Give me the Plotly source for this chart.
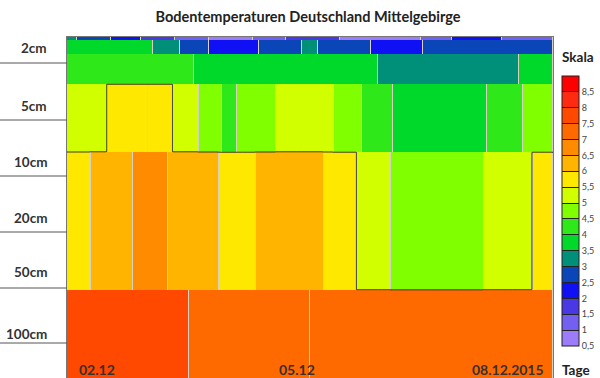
import numpy as np
import plotly.graph_objects as go

# ---------------- data ----------------
# colour classes (°C): boundaries 0.5 ... 9 in 0.5 steps
class_bounds = [0.5, 1, 1.5, 2, 2.5, 3, 3.5, 4, 4.5, 5, 5.5, 6, 6.5, 7, 7.5, 8, 8.5, 9]
class_colors = ["#9c7cf8", "#7460f0", "#4a38e4", "#1010f4", "#0a46b8", "#00907a",
                "#00d82a", "#2ee81a", "#80ff00", "#d2ff00", "#ffe800", "#ffb400",
                "#ff8c00", "#ff6a00", "#ff4800", "#ff2a10", "#ff0000"]
colorbar_ticks = [0.5, 1, 1.5, 2, 2.5, 3, 3.5, 4, 4.5, 5, 5.5, 6, 6.5, 7, 7.5, 8, 8.5]
colorbar_ticktext = ["0,5", "1", "1,5", "2", "2,5", "3", "3,5", "4", "4,5", "5",
                     "5,5", "6", "6,5", "7", "7,5", "8", "8,5"]

# soil layers (display depth units, surface at 0)
layer_bounds = [0, 3, 17, 47, 115, 253, 341]

# time edges of each layer's cells (hours after 02.12.) and temperatures
layer_times = [
    [0, 3, 13, 22, 32, 42, 55, 65, 81, 105, 114, 129, 144],
    [0, 25.5, 33.5, 42, 57, 69.5, 74.5, 90, 105.5, 144],
    [0, 37.5, 92, 134, 144],
    [0, 12, 24, 31.5, 39, 46, 50.5, 62, 79, 87.5, 96.5, 124.5, 135, 144],
    [0, 7, 19.5, 30, 45, 56, 76, 86, 96, 123.5, 138, 144],
    [0, 36, 72, 144],
]
layer_temps = [
    [3.25, 2.75, 2.25, 1.75, 1.25, 0.75, 1.25, 1.75, 0.75, 1.25, 2.25, 1.25],
    [3.75, 3.25, 2.75, 2.25, 2.75, 3.25, 2.75, 2.25, 2.75],
    [4.25, 3.75, 3.25, 3.75],
    [5.25, 5.75, 5.75, 5.25, 4.75, 4.25, 4.75, 5.25, 4.75, 4.25, 3.75, 4.25, 4.75],
    [5.75, 6.25, 6.75, 6.25, 5.75, 6.25, 5.75, 5.25, 4.75, 5.25, 5.75],
    [7.75, 7.25, 7.25],
]
contour_level = 5.5

depth_labels = ["2cm", "5cm", "10cm", "20cm", "50cm", "100cm"]
depth_label_pos = [11, 69, 125, 181, 235, 297]
depth_tick_pos = [26, 83, 139, 195, 251, 306]

date_labels = ["02.12", "05.12", "08.12.2015"]
date_pos = [3, 68, 142]
date_anchor = ["left", "center", "right"]

# ---------------- figure ----------------
zmin, zmax = class_bounds[0], class_bounds[-1]
cs = []
for i, c in enumerate(class_colors):
    a = (class_bounds[i] - zmin) / (zmax - zmin)
    b = (class_bounds[i + 1] - zmin) / (zmax - zmin)
    cs.append([a, c])
    cs.append([b, c])

fig = go.Figure()
for i, (times, temps) in enumerate(zip(layer_times, layer_temps)):
    hm = dict(
        x=times, y=[layer_bounds[i], layer_bounds[i + 1]], z=[temps],
        colorscale=cs, zmin=zmin, zmax=zmax, xgap=1, ygap=0,
        hoverinfo="skip", showscale=(i == 0),
    )
    if i == 0:
        hm["colorbar"] = dict(
            x=(562 - 67) / 486, xanchor="left", xpad=0,
            y=1 - (211 - 37) / 341, yanchor="middle", ypad=0,
            len=270, lenmode="pixels", thickness=17, thicknessmode="pixels",
            outlinecolor="#222", outlinewidth=1,
            tickmode="array", tickvals=colorbar_ticks, ticktext=colorbar_ticktext,
            ticks="inside", ticklen=17, tickcolor="#222", tickwidth=1,
            tickfont=dict(size=9, color="#444", family="Lato"),
        )
    fig.add_trace(go.Heatmap(**hm))

# fine grid for the 5.5 °C isoline
xf = np.arange(0, 144.001, 0.5)
yf = np.arange(0.5, layer_bounds[-1], 1.0)
Z = np.zeros((len(yf), len(xf)))
for i, (times, temps) in enumerate(zip(layer_times, layer_temps)):
    rows = (yf >= layer_bounds[i]) & (yf < layer_bounds[i + 1])
    idx = np.clip(np.searchsorted(times, xf, side="right") - 1, 0, len(temps) - 1)
    Z[rows, :] = np.array(temps)[idx]
fig.add_trace(go.Contour(
    x=xf, y=yf, z=Z, showscale=False, hoverinfo="skip",
    contours=dict(start=contour_level, end=contour_level, size=1, coloring="none"),
    line=dict(color="#222", width=1, smoothing=0),
))

fig.update_xaxes(range=[0, 144], showticklabels=False, showgrid=False, zeroline=False,
                 showline=True, mirror=True, linecolor="#777", linewidth=1, ticks="")
fig.update_yaxes(range=[layer_bounds[-1], 0], showticklabels=False, showgrid=False,
                 zeroline=False, showline=True, mirror=True, linecolor="#777",
                 linewidth=1, ticks="")

font_fam = "Lato"
for lab, p in zip(depth_labels, depth_label_pos):
    fig.add_annotation(x=-18 / 486, xref="paper", y=p, yref="y", text="<b>" + lab + "</b>",
                       showarrow=False, xanchor="right", yanchor="middle",
                       font=dict(size=13.5, color="#333", family=font_fam))
for p in depth_tick_pos:
    fig.add_shape(type="line", xref="paper", x0=-67 / 486, x1=0, yref="y", y0=p, y1=p,
                  line=dict(color="#555", width=1))
for lab, p, anc in zip(date_labels, date_pos, date_anchor):
    fig.add_annotation(x=p, xref="x", y=332, yref="y", text="<b>" + lab + "</b>",
                       showarrow=False, xanchor=anc, yanchor="middle",
                       font=dict(size=14, color="#3a3030", family=font_fam))
fig.add_annotation(x=(560 - 67) / 486, xref="paper", y=1 - (57 - 37) / 341, yref="paper",
                   text="<b>Skala</b>", showarrow=False, xanchor="left", yanchor="middle",
                   font=dict(size=13.5, color="#222", family=font_fam))
fig.add_annotation(x=(560 - 67) / 486, xref="paper", y=1 - (370 - 37) / 341, yref="paper",
                   text="<b>Tage</b>", showarrow=False, xanchor="left", yanchor="middle",
                   font=dict(size=13.5, color="#222", family=font_fam))

fig.update_layout(
    width=600, height=378,
    margin=dict(l=67, r=47, t=37, b=0, autoexpand=False),
    paper_bgcolor="white", plot_bgcolor="#d8d0c0",
    showlegend=False,
    title=dict(text="<b>Bodentemperaturen Deutschland Mittelgebirge</b>",
               x=308 / 600, xanchor="center", y=1 - 17 / 378, yanchor="middle",
               font=dict(size=14.5, color="#222", family=font_fam)),
)

fig.write_html("out.html", config={"displayModeBar": False},
               post_script="document.body.style.margin='0px';")
